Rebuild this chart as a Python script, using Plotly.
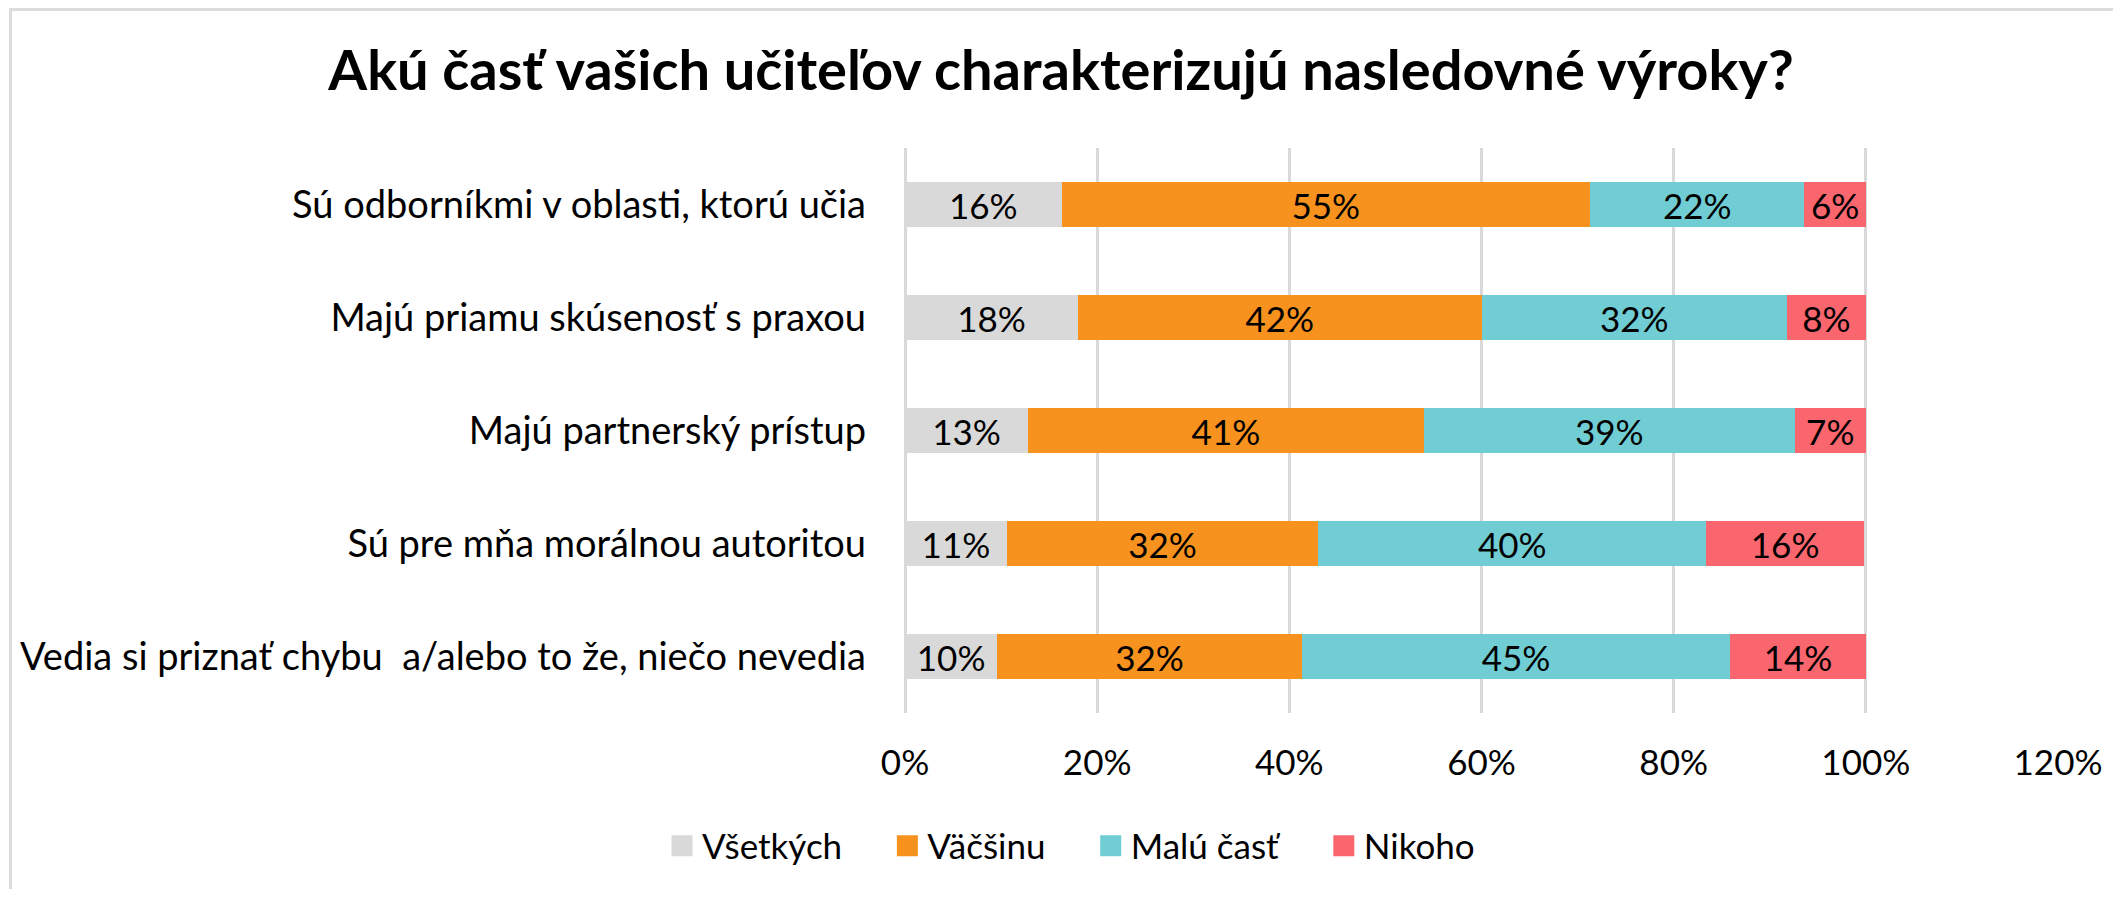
import plotly.graph_objects as go

categories = [
    "Sú odborníkmi v oblasti, ktorú učia",
    "Majú priamu skúsenosť s praxou",
    "Majú partnerský prístup",
    "Sú pre mňa morálnou autoritou",
    "Vedia si priznať chybu  a/alebo to že, niečo nevedia",
]
series_names = ["Všetkých", "Väčšinu", "Malú časť", "Nikoho"]
vsetkych = [16.3, 18.0, 12.8, 10.6, 9.6]
vacsinu = [55.0, 42.0, 41.2, 32.4, 31.7]
malu_cast = [22.3, 31.8, 38.6, 40.4, 44.6]
nikoho = [6.4, 8.2, 7.4, 16.4, 14.1]
series_values = [vsetkych, vacsinu, malu_cast, nikoho]
colors = ["#D9D9D9", "#F7921F", "#70CDD3", "#F9666E"]
x_ticks = [0, 20, 40, 60, 80, 100, 120]

FONT = "Lato, 'Open Sans', sans-serif"

OFF = 8  # page body margin offset
W, H = 2121 - 2 * OFF, 897 - 2 * OFF
# target pixel positions in the window
PL, PR, PT, PB = 905, 2058, 148, 713
L, T = PL - OFF, PT - OFF
R, B = W - (PR - OFF), H - (PB - OFF)
PW, PH = W - L - R, H - T - B

fig = go.Figure()
for name, vals, col in zip(series_names, series_values, colors):
    fig.add_trace(go.Bar(
        y=categories, x=vals, orientation="h", name=name,
        marker=dict(color=col, line=dict(width=0)),
        texttemplate="%{x:.0f}%", textposition="inside",
        insidetextanchor="middle", textangle=0, constraintext="none",
        textfont=dict(family=FONT, size=35, color="black"),
        showlegend=False, hoverinfo="skip",
    ))
# legend entries
for name, col in zip(series_names, colors):
    fig.add_trace(go.Scatter(
        x=[None], y=[None], mode="markers", name=name + "\u00a0" * 4 + "\u2009",
        marker=dict(symbol="square", size=16, color=col,
                    line=dict(color=col, width=5)),
        showlegend=True,
    ))

def wx(px):
    return (px - OFF - L) / PW

def wy(py):
    return (H - B - (py - OFF)) / PH

fig.add_shape(type="rect", xref="paper", yref="paper",
              x0=wx(10.5), x1=wx(2160),
              y0=wy(940), y1=wy(9.5),
              line=dict(color="#DCDCDC", width=3), fillcolor="rgba(0,0,0,0)",
              layer="below")

fig.update_layout(
    width=W, height=H,
    margin=dict(l=L, r=R, t=T, b=B, pad=0, autoexpand=False),
    paper_bgcolor="white", plot_bgcolor="white",
    barmode="stack", bargap=0.607,
    font=dict(family=FONT, color="black"),
    title=dict(
        text="<b>Akú časť vašich učiteľov charakterizujú nasledovné výroky?</b>",
        font=dict(family=FONT, size=56, color="black"),
        x=(1061 - OFF) / W, xref="container", xanchor="center",
        y=1 - (70 - OFF) / H, yref="container", yanchor="middle",
    ),
    xaxis=dict(
        range=[0, 120], tickvals=x_ticks, ticktext=[f"{v}%" for v in x_ticks],
        showgrid=True, gridcolor="#D9D9D9", gridwidth=2.5,
        zeroline=True, zerolinecolor="#D9D9D9", zerolinewidth=2.5,
        showline=False, ticks="", ticklabelstandoff=26,
        tickfont=dict(family=FONT, size=35, color="black"),
        fixedrange=True,
    ),
    yaxis=dict(
        autorange="reversed", showgrid=False, zeroline=False, showline=False,
        ticks="", ticklabelstandoff=38,
        tickfont=dict(family=FONT, size=38, color="black"),
        fixedrange=True,
    ),
    legend=dict(
        orientation="h", xref="container", yref="container",
        traceorder="normal",
        x=(662 - OFF) / W, xanchor="left", y=1 - (846 - OFF) / H, yanchor="middle",
        font=dict(family=FONT, size=35, color="black"),
        bgcolor="rgba(0,0,0,0)", itemclick=False, itemdoubleclick=False,
    ),
)

fig.write_html("out.html")
